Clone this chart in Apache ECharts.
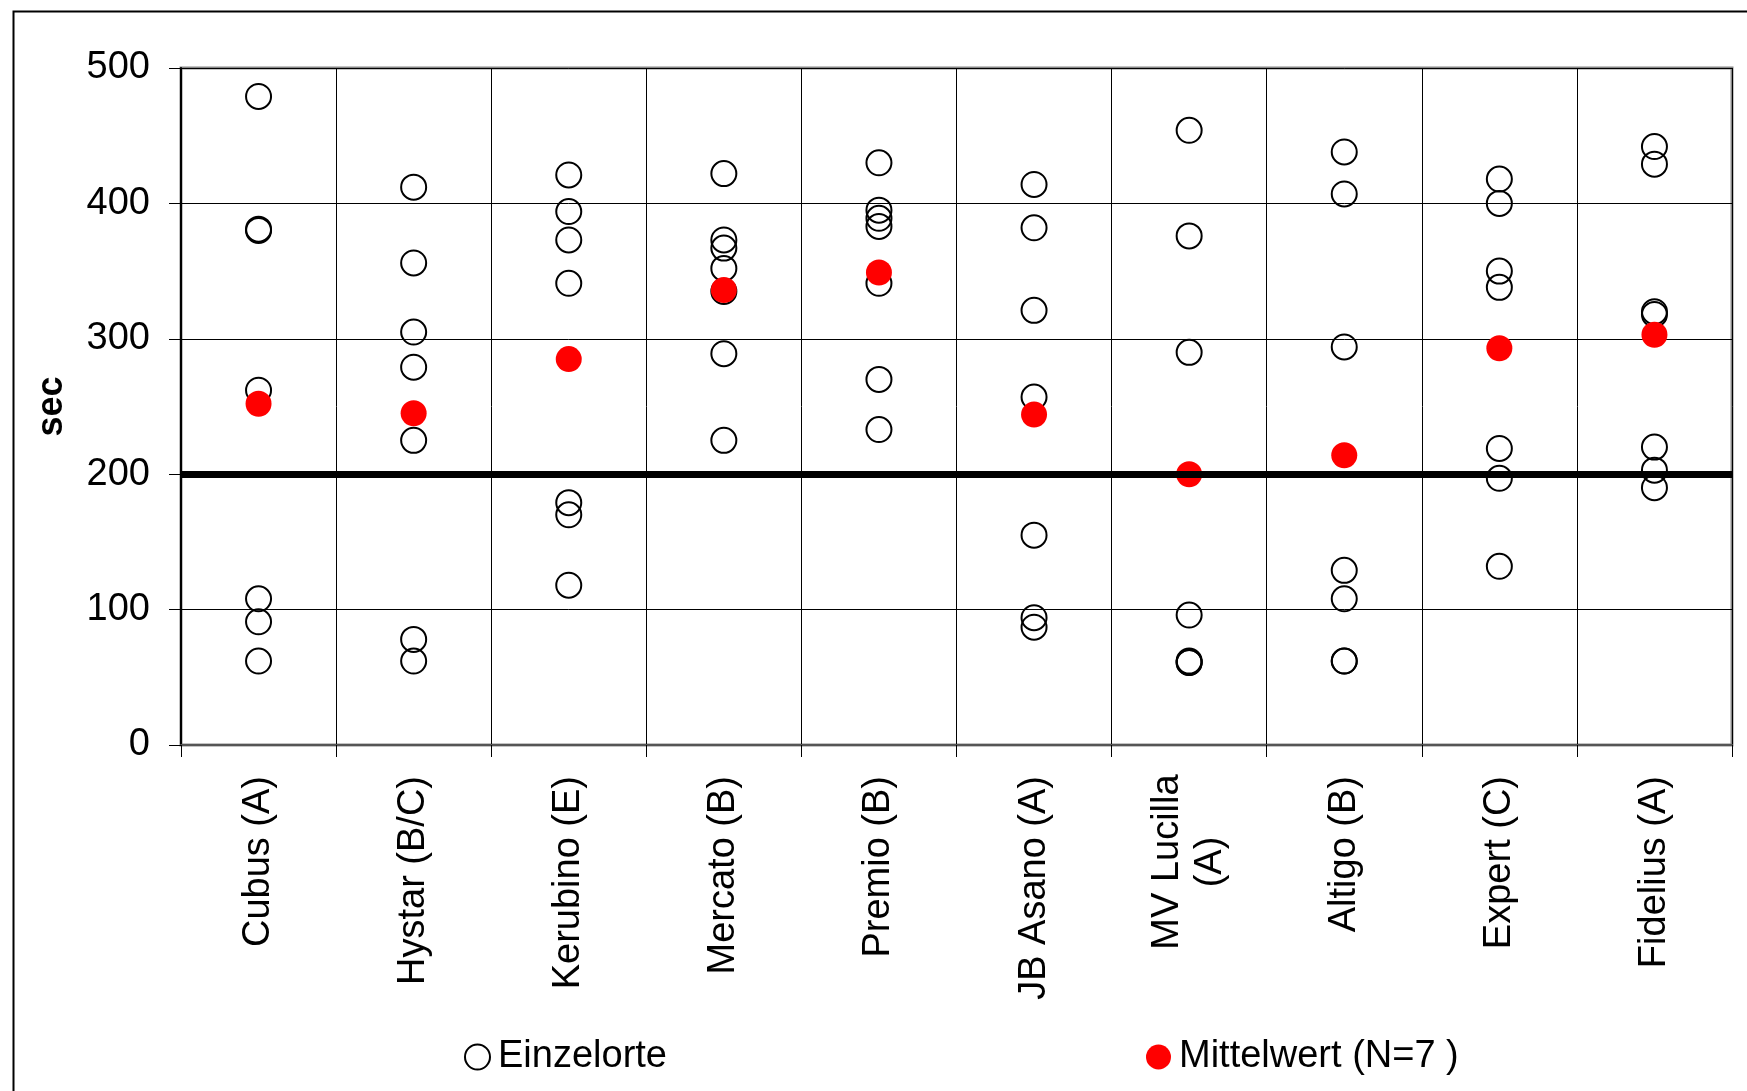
<!DOCTYPE html>
<html>
<head>
<meta charset="utf-8">
<script src="https://cdn.jsdelivr.net/npm/echarts@6/dist/echarts.min.js"></script>
<style>
html,body{margin:0;padding:0;background:#fff;}
#c{width:1747px;height:1091px;}
</style>
</head>
<body>
<div id="c"></div>
<script>
const categories = ['Cubus (A)', 'Hystar (B/C)', 'Kerubino (E)', 'Mercato (B)', 'Premio (B)', 'JB Asano (A)', 'MV Lucilla\n(A)', 'Altigo (B)', 'Expert (C)', 'Fidelius (A)'];
const cubus    = [479, 381, 380, 262, 108, 91, 62];
const hystar   = [412, 356, 305, 279, 225, 78, 62];
const kerubino = [421, 394, 373, 341, 179, 170, 118];
const mercato  = [422, 373, 367, 352, 335, 289, 225];
const premio   = [430, 395, 389, 383, 341, 270, 233];
const jbAsano  = [414, 382, 321, 257, 155, 94, 87];
const mvLucilla= [454, 376, 290, 96, 62, 61, 61];
const altigo   = [438, 407, 294, 129, 108, 62, 62];
const expert   = [418, 400, 350, 338, 219, 197, 132];
const fidelius = [442, 429, 320, 318, 220, 203, 190];
const einzelorte = [cubus, hystar, kerubino, mercato, premio, jbAsano, mvLucilla, altigo, expert, fidelius];
const mittelwert = [252, 245, 285, 336, 349, 244, 200, 214, 293, 303];
const yTicks = [0, 100, 200, 300, 400, 500];
const refLine = 200;

const einzelData = [];
einzelorte.forEach((vals, i) => vals.forEach(v => einzelData.push([i, v])));
const meanData = mittelwert.map((v, i) => [i, v]);

const FONT = '"Liberation Sans", Arial, sans-serif';
const chart = echarts.init(document.getElementById('c'), null, {renderer: 'canvas'});
chart.setOption({
  animation: false,
  backgroundColor: '#fff',
  graphic: [{
    type: 'rect', left: 11, top: 9, silent: true, z: -10,
    shape: {width: 1800, height: 1200},
    style: {fill: 'none', stroke: '#000', lineWidth: 2}
  }],
  grid: {left: 181, top: 68, right: 15, bottom: 346, show: true, borderColor: '#888', borderWidth: 3, backgroundColor: 'transparent'},
  xAxis: {
    type: 'category',
    data: categories,
    boundaryGap: true,
    axisLine: {show: true, lineStyle: {color: '#555', width: 2}},
    axisTick: {show: true, length: 12, lineStyle: {color: '#000', width: 1}},
    splitLine: {show: true, lineStyle: {color: '#000', width: 1}},
    axisLabel: {
      rotate: 90, margin: 31, color: '#000', fontFamily: FONT, fontSize: 38, interval: 0,
      formatter: function (v) {
        if (v.indexOf('\n') >= 0) {
          return v.split('\n').map(s => '{c|' + s + '}').join('\n');
        }
        return v;
      },
      rich: {c: {width: 172, align: 'center', fontFamily: FONT, fontSize: 38, color: '#000', lineHeight: 43}}
    }
  },
  yAxis: {
    type: 'value',
    min: 0, max: 500, interval: 100,
    name: 'sec', nameLocation: 'middle', nameGap: 111, nameRotate: 90,
    nameTextStyle: {fontFamily: FONT, fontSize: 36, fontWeight: 'bold', color: '#000'},
    axisLine: {show: true, lineStyle: {color: '#000', width: 2}},
    axisTick: {show: true, length: 12, lineStyle: {color: '#000', width: 1}},
    splitLine: {show: true, lineStyle: {color: '#000', width: 1}},
    axisLabel: {margin: 31, color: '#000', fontFamily: FONT, fontSize: 38,
      formatter: v => (yTicks.indexOf(v) >= 0 ? String(v) : '')}
  },
  legend: [{
    data: ['Einzelorte'], left: 459, top: 1033, itemWidth: 25, itemHeight: 25,
    textStyle: {fontFamily: FONT, fontSize: 38, color: '#000', padding: [0, 0, 0, 3]}
  }, {
    data: ['Mittelwert (N=7 )'], left: 1141, top: 1033, itemWidth: 25, itemHeight: 25,
    textStyle: {fontFamily: FONT, fontSize: 38, color: '#000', padding: [0, 0, 0, 3]}
  }],
  series: [{
    name: 'ref', type: 'scatter', data: [], z: 1, silent: true,
    markLine: {
      silent: true, symbol: ['none', 'none'], label: {show: false},
      lineStyle: {color: '#000', width: 7, type: 'solid'},
      data: [{yAxis: refLine}]
    }
  }, {
    name: 'Einzelorte', type: 'scatter', z: 3,
    data: einzelData, symbol: 'circle', symbolSize: 25,
    itemStyle: {color: 'rgba(255,255,255,0)', borderColor: '#000', borderWidth: 2, opacity: 1}
  }, {
    name: 'Mittelwert (N=7 )', type: 'scatter', z: 4,
    data: meanData, symbol: 'circle', symbolSize: 26,
    itemStyle: {color: '#ff0000', opacity: 1}
  }]
});
</script>
</body>
</html>
